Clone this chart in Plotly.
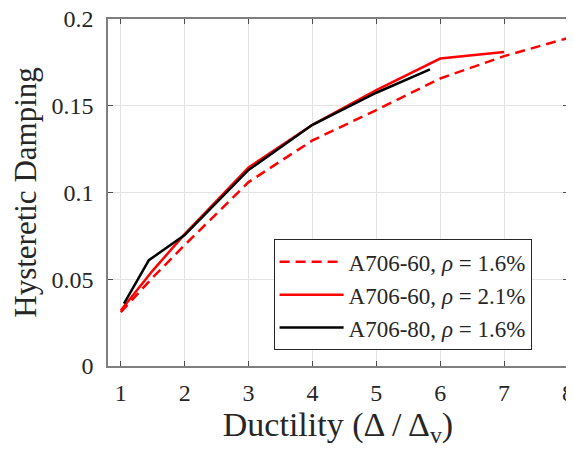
import plotly.graph_objects as go

# Data
x_a60_16 = [1, 1.5, 2, 3, 4, 5, 6, 7, 8]
y_a60_16 = [0.031, 0.051, 0.0697, 0.106, 0.130, 0.1475, 0.1657, 0.1786, 0.189]

x_a60_21 = [1, 1.5, 2, 3, 4, 5, 6, 7]
y_a60_21 = [0.032, 0.055, 0.076, 0.1145, 0.139, 0.159, 0.1772, 0.181]

x_a80_16 = [1.05, 1.44, 2, 3, 4, 5, 5.84]
y_a80_16 = [0.036, 0.061, 0.0755, 0.113, 0.139, 0.1575, 0.171]

names = ["A706-60, <i>ρ</i> = 1.6%", "A706-60, <i>ρ</i> = 2.1%", "A706-80, <i>ρ</i> = 1.6%"]
x_ticks = [1, 2, 3, 4, 5, 6, 7, 8]
y_ticks = [0, 0.05, 0.1, 0.15, 0.2]
y_tick_text = ["0", "0.05", "0.1", "0.15", "0.2"]

FONT = "Liberation Serif, Times New Roman, serif"
TXT = "#262626"

fig = go.Figure()
fig.add_trace(go.Scatter(x=x_a60_16, y=y_a60_16, mode="lines", name=names[0],
                         line=dict(color="#ff0000", width=2.5, dash="10px,6px")))
fig.add_trace(go.Scatter(x=x_a60_21, y=y_a60_21, mode="lines", name=names[1],
                         line=dict(color="#ff0000", width=2.5)))
fig.add_trace(go.Scatter(x=x_a80_16, y=y_a80_16, mode="lines", name=names[2],
                         line=dict(color="#000000", width=2.5)))

axis_common = dict(
    showgrid=True, gridcolor="#e3e3e3", gridwidth=1,
    showline=True, linecolor="#7f7f7f", linewidth=1.5, mirror="allticks",
    ticks="inside", ticklen=5, tickcolor="#4d4d4d", tickwidth=1,
    zeroline=False, automargin=False, ticklabeloverflow="allow",
    tickfont=dict(family=FONT, size=24, color=TXT),
)

# the page body adds an 8px offset, so the figure is sized 8px smaller
fig.update_layout(
    width=566, height=446,
    margin=dict(l=100, r=6, t=11, b=88),
    paper_bgcolor="white", plot_bgcolor="white",
    font=dict(family=FONT, color=TXT),
    xaxis=dict(range=[0.8, 8], tickvals=x_ticks, ticklabelstandoff=4,
               title=dict(text="Ductility (Δ / Δ<sub>v</sub>)", font=dict(family=FONT, size=34, color=TXT), standoff=4),
               **axis_common),
    yaxis=dict(range=[0, 0.2], tickvals=y_ticks, ticktext=y_tick_text, ticklabelstandoff=8,
               title=dict(text="Hysteretic Damping", font=dict(family=FONT, size=31, color=TXT), standoff=8),
               **axis_common),
    legend=dict(x=0.36, y=0.365, xanchor="left", yanchor="top",
                bgcolor="white", bordercolor=TXT, borderwidth=1,
                font=dict(family=FONT, size=23, color=TXT),
                tracegroupgap=0, itemwidth=64),
    showlegend=True,
)

fig.write_html("out.html")
